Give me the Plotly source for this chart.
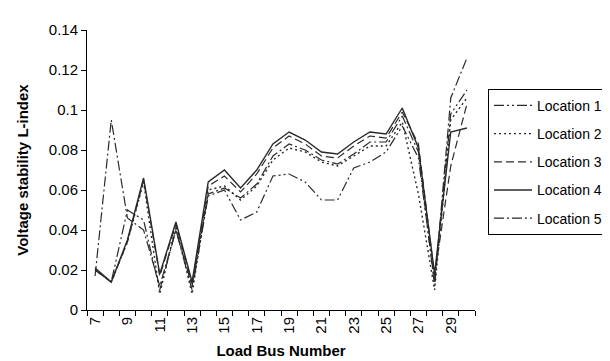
import plotly.graph_objects as go

buses = list(range(7, 31))
tick_labels = [str(b) for b in range(7, 30, 2)]

loc1 = [0.020, 0.014, 0.050, 0.045, 0.010, 0.040, 0.010, 0.057, 0.060, 0.045, 0.049, 0.067,
        0.068, 0.064, 0.055, 0.055, 0.071, 0.074, 0.079, 0.092, 0.076, 0.014, 0.098, 0.110]
loc2 = [0.020, 0.014, 0.034, 0.064, 0.008, 0.042, 0.008, 0.060, 0.062, 0.055, 0.062, 0.075,
        0.081, 0.079, 0.074, 0.072, 0.077, 0.082, 0.082, 0.094, 0.058, 0.010, 0.095, 0.106]
loc3 = [0.020, 0.014, 0.034, 0.065, 0.017, 0.043, 0.013, 0.062, 0.067, 0.059, 0.068, 0.081,
        0.087, 0.083, 0.077, 0.076, 0.082, 0.087, 0.086, 0.099, 0.083, 0.017, 0.072, 0.103]
loc4 = [0.021, 0.014, 0.035, 0.066, 0.018, 0.044, 0.014, 0.064, 0.070, 0.061, 0.070, 0.083,
        0.089, 0.085, 0.079, 0.078, 0.084, 0.089, 0.088, 0.101, 0.081, 0.018, 0.089, 0.091]
loc5 = [0.017, 0.095, 0.046, 0.040, 0.012, 0.040, 0.012, 0.058, 0.061, 0.056, 0.063, 0.077,
        0.083, 0.080, 0.075, 0.073, 0.078, 0.084, 0.084, 0.097, 0.079, 0.012, 0.106, 0.126]

series = [
    ("Location 1", loc1, "10px,3px,2px,3px,2px,3px", 1.2),
    ("Location 2", loc2, "2px,3px", 1.4),
    ("Location 3", loc3, "8px,4px", 1.2),
    ("Location 4", loc4, "solid", 1.4),
    ("Location 5", loc5, "10px,3px,2px,3px", 1.2),
]

fig = go.Figure()
for name, vals, dash, w in series:
    fig.add_trace(go.Scatter(
        x=buses, y=vals, name=name, mode="lines", legendgroup=name,
        line=dict(color="#2a2a2a", width=w, dash=dash),
    ))

font = "Liberation Sans, Arial, sans-serif"
fig.update_layout(
    width=610, height=361,
    margin=dict(l=79, r=143, t=22, b=59, autoexpand=False),
    paper_bgcolor="white", plot_bgcolor="white",
    font=dict(family=font, size=15, color="black"),
    showlegend=True,
    legend=dict(
        x=1.0335, y=0.79, xanchor="left", yanchor="top",
        bordercolor="black", borderwidth=1, bgcolor="white",
        font=dict(size=14), itemwidth=38, tracegroupgap=7,
    ),
    xaxis=dict(
        range=[6.5, 30.5], showgrid=False, zeroline=False,
        showline=True, linecolor="black", linewidth=1,
        tickmode="array", tickvals=list(range(7, 30, 2)), ticktext=tick_labels,
        ticks="", tickangle=-90, tickfont=dict(size=15),
        minor=dict(tick0=6.5, dtick=1, ticks="outside", ticklen=5, tickcolor="black", showgrid=False),
        title=dict(text="<b>Load Bus Number</b>", font=dict(size=15), standoff=12),
    ),
    yaxis=dict(
        range=[0, 0.14], dtick=0.02, showgrid=False, zeroline=False,
        showline=True, linecolor="black", linewidth=1,
        ticks="outside", ticklen=5, tickcolor="black", tickfont=dict(size=15),
        title=dict(text="<b>Voltage stability L-index</b>", font=dict(size=15), standoff=16),
    ),
)

fig.write_html("out.html")
